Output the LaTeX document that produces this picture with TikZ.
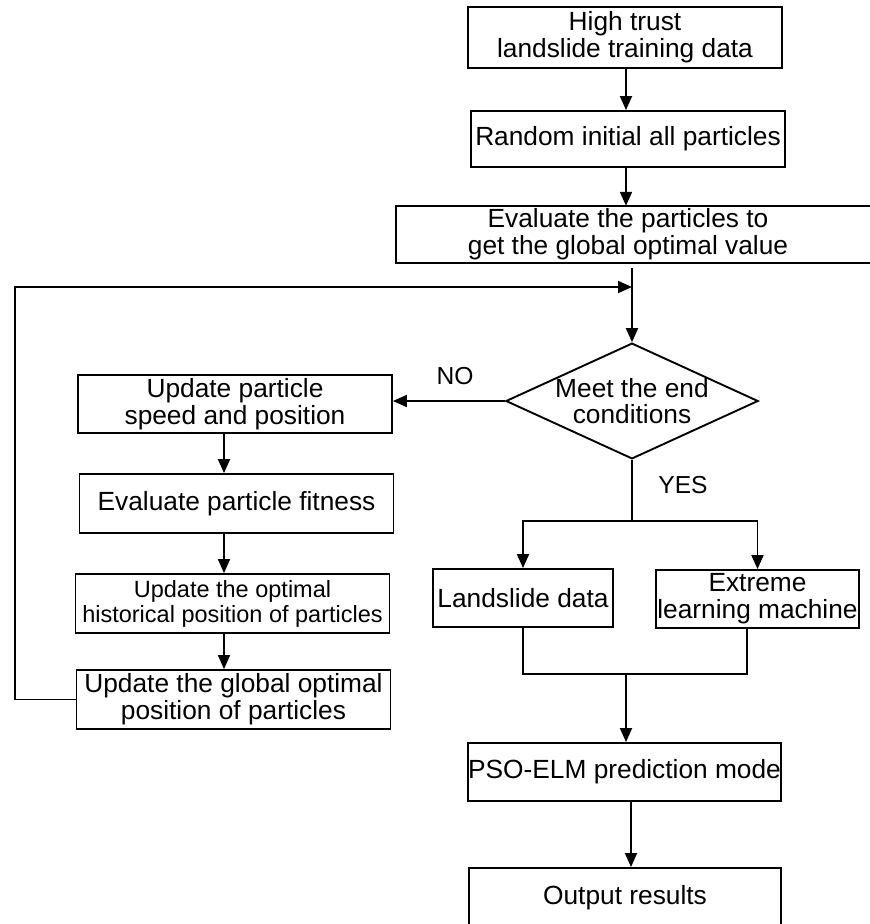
\documentclass[tikz,border=0pt]{standalone}
\usepackage{fontspec}
\setmainfont{Liberation Sans}
\usetikzlibrary{arrows.meta, shapes.geometric}

\tikzset{
  txt/.style={align=center, inner sep=0pt, font=\fontsize{26.3}{27}\selectfont},
  box/.style={txt, draw, line width=1.9pt, minimum width=314pt, minimum height=58pt},
  arr/.style={line width=1.9pt, -{Triangle[length=14pt,width=12pt]}},
  conn/.style={line width=1.9pt},
  lbl/.style={inner sep=0pt, font=\fontsize{24.6}{27}\selectfont},
}

\begin{document}
\begin{tikzpicture}[x=1pt, y=-1pt]
\path[use as bounding box, clip] (0,0) rectangle (870,924);

% main column
\node[box, minimum height=61pt] (b1) at (625,37.5) {High trust\\landslide training data};
\node[box, minimum height=56pt] (b2) at (628,139) {Random initial all particles};
\draw[conn] (396,206) rectangle (880,263);
\node[txt, minimum height=57pt] (b3) at (628,234.5) {Evaluate the particles to\\get the global optimal value};

\coordinate (mx) at (626,0);
\draw[arr] (b1.south -| mx) -- (b2.north -| mx);
\draw[arr] (b2.south -| mx) -- (b3.north -| mx);

% decision
\node[txt, draw, diamond, aspect=2.18, line width=1.9pt, font=\fontsize{26.3}{26}\selectfont] (d) at (632,401) {Meet the end\\conditions};
\coordinate (join) at (d.north |- 0,287);
\draw[arr] ([yshift=-5pt]b3.south -| d.north) -- (d.north);

% left loop
\node[box] (u1) at (235,404) {Update particle\\speed and position};
\node[box, minimum height=59pt] (u2) at (236.5,503.5) {Evaluate particle fitness};
\node[box, minimum height=59pt, font=\fontsize{23.5}{25}\selectfont] (u3) at (232.5,603.5) {Update the optimal\\historical position of particles};
\node[box, minimum height=59pt] (u4) at (233.5,699.5) {Update the global optimal\\position of particles};

\coordinate (lx) at (224,0);
\draw[arr] (u1.south -| lx) -- (u2.north -| lx);
\draw[arr] (u2.south -| lx) -- (u3.north -| lx);
\draw[arr] (u3.south -| lx) -- (u4.north -| lx);

\node[lbl] (no) at (455,376) {NO};
\draw[arr] (d.west) -- (d.west -| u1.east);

\coordinate (lc) at (15,0);
\draw[arr] (u4.west) -- (u4.west -| lc) -- (join -| lc) -- (join);

% YES branch
\node[lbl] (yes) at (683,485) {YES};
\node[box, minimum width=180pt] (r1) at (523,598) {Landslide data};
\node[box, minimum width=203pt] (r2) at (757.5,599) {Extreme\\learning machine};

\coordinate (split) at (d.south |- 0,521);
\draw[conn] (d.south) -- (split);
\draw[arr] (split) -- (split -| r1.north) -- (r1.north);
\draw[arr] (split) -- (split -| r2.north) -- (r2.north);

% merge
\node[box, minimum width=311pt] (p) at (624.5,772) {PSO-ELM prediction mode};
\coordinate (mg) at (626,674);
\coordinate (rx) at (747,0);
\draw[conn] (r1.south) -- (r1.south |- mg) -- (mg -| rx) -- (r2.south -| rx);
\draw[arr] (mg) -- (mg |- p.north);

\node[box, minimum width=312pt, minimum height=60pt] (out) at (625,898) {Output results};
\coordinate (ox) at (631,0);
\draw[arr] (p.south -| ox) -- (out.north -| ox);

\end{tikzpicture}
\end{document}
